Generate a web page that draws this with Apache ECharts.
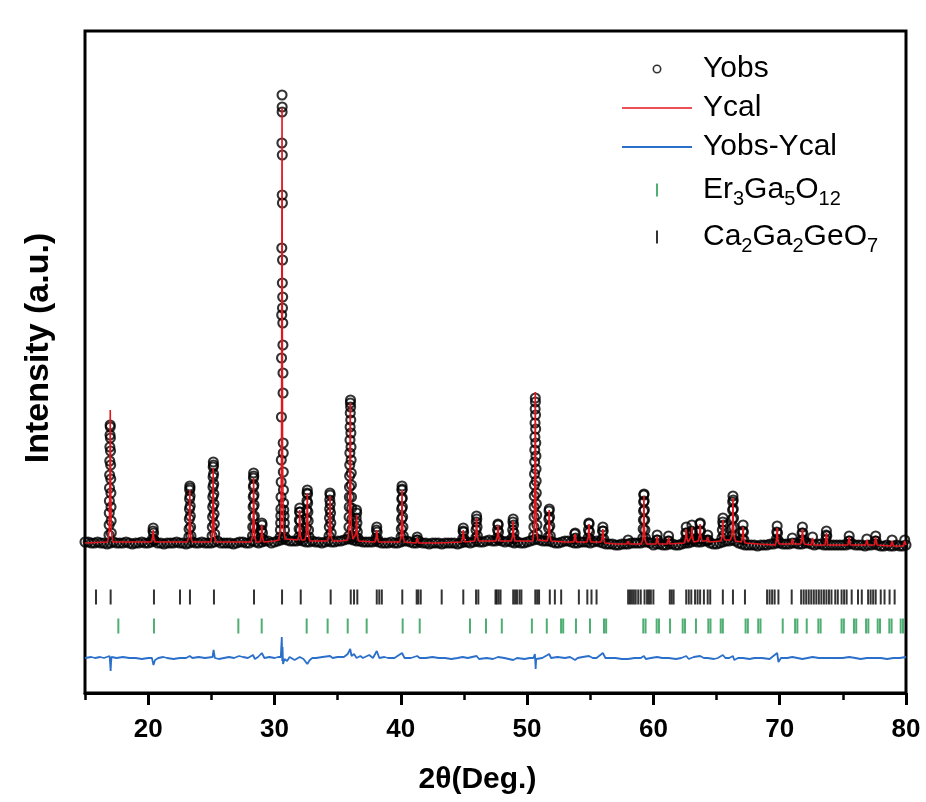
<!DOCTYPE html>
<html>
<head>
<meta charset="utf-8">
<title>XRD refinement</title>
<script src="https://cdn.jsdelivr.net/npm/echarts@6/dist/echarts.min.js"></script>
<style>
  html, body { margin: 0; padding: 0; background: #fff; }
  #chart { width: 926px; height: 802px; }
</style>
</head>
<body>
<div id="chart"></div>
<script>
// axis ticks
const majorTicks = [20, 30, 40, 50, 60, 70, 80];
const minorTicks = [15, 25, 35, 45, 55, 65, 75];

// Yobs background: one reading every 0.25 deg from 15 deg
const obsGridStart = 15;
const obsGridStep = 0.25;
const obsBaseline = [
  151,151,150,150,151,150,150,149,150,151,150,150,150,151,150,149,150,150,151,150,
  150,151,152,150,150,149,150,150,150,151,150,150,149,150,151,150,150,151,150,150,
  150,151,152,150,150,150,150,149,150,151,151,150,150,152,151,150,151,152,152,150,
  151,152,153,154,153,152,152,152,153,152,151,151,152,151,151,150,151,152,151,151,
  152,152,153,154,154,153,152,152,151,151,151,151,152,151,150,150,150,151,150,150,
  151,152,152,151,150,150,151,150,150,149,150,150,150,149,150,150,150,150,149,150,
  151,151,150,151,152,151,151,152,153,152,152,153,152,151,152,151,150,151,150,150,
  151,152,153,154,153,152,152,152,151,150,150,151,152,152,151,150,150,151,151,151,
  150,151,152,151,150,149,149,149,148,148,149,149,149,150,150,150,150,151,151,150,
  148,149,149,148,148,149,149,148,148,149,150,150,151,152,151,151,152,152,150,149,
  149,150,151,152,152,153,152,150,149,148,148,148,148,147,148,148,148,149,149,150,
  150,149,149,149,150,150,149,149,150,150,149,148,149,149,148,148,148,148,148,148,
  148,148,149,149,148,148,148,147,148,148,149,148,147,147,148,147,147,148,147,147,
  148
];

// Yobs points on the reflections [2theta, intensity]
const obsPeaks = [
  [16.9,158],[16.91,168],[16.92,180],[16.93,192],[16.94,205],[16.95,218],[16.96,232],[16.97,246],[16.98,258],[16.99,268],
  [17.0,266],[17.01,255],[17.02,242],[17.03,228],[17.04,214],[17.05,200],[17.06,186],[17.07,172],[17.08,160],
  [20.34,154],[20.38,162],[20.4,165],[20.43,160],[20.47,153],
  [23.22,156],[23.24,164],[23.26,174],[23.27,184],[23.28,194],[23.29,203],[23.3,207],[23.31,205],[23.32,197],[23.33,187],[23.34,177],[23.36,166],[23.39,157],
  [25.06,157],[25.08,166],[25.1,176],[25.11,186],[25.12,196],[25.13,206],[25.14,216],[25.15,226],[25.16,231],[25.17,228],[25.18,219],[25.19,209],[25.2,199],[25.21,189],[25.22,179],[25.24,169],[25.27,159],
  [28.26,157],[28.28,166],[28.3,176],[28.31,186],[28.32,196],[28.33,206],[28.34,215],[28.35,220],[28.36,217],[28.37,208],[28.38,198],[28.39,188],[28.41,177],[28.43,166],[28.46,157],
  [28.93,155],[28.97,163],[29.0,170],[29.02,168],[29.05,160],[29.09,154],
  [30.45,156],[30.47,163],[30.49,170],[30.5,177],[30.51,184],[30.52,196],[30.53,211],[30.54,233],[30.55,276],[30.56,335],[30.57,378],[30.58,445],[30.59,550],
  [30.6,598],[30.605,581],[30.61,586],[30.615,498],[30.62,538],[30.625,410],[30.63,490],[30.635,385],[30.64,433],[30.65,396],[30.66,370],[30.67,348],[30.675,320],
  [30.68,300],[30.69,250],[30.695,240],[30.7,221],[30.71,203],[30.72,190],[30.74,183],[30.76,177],[30.78,170],[30.8,163],[30.83,156],
  [31.93,156],[31.95,164],[31.97,173],[31.99,181],[32.0,185],[32.02,181],[32.04,172],[32.06,163],[32.09,155],
  [32.5,157],[32.52,165],[32.54,174],[32.56,183],[32.57,192],[32.58,200],[32.6,203],[32.62,199],[32.63,190],[32.65,181],[32.67,172],[32.7,163],[32.74,156],
  [34.32,157],[34.34,166],[34.36,175],[34.37,184],[34.38,193],[34.39,200],[34.41,198],[34.42,189],[34.44,180],[34.46,170],[34.49,160],
  [35.88,157],[35.9,166],[35.91,176],[35.92,186],[35.93,196],[35.94,206],[35.95,217],[35.96,228],[35.97,240],[35.98,253],[35.99,266],[36.0,280],[36.01,290],
  [36.02,293],[36.03,286],[36.04,273],[36.05,260],[36.06,246],[36.07,233],[36.08,220],[36.09,208],[36.1,196],[36.11,185],[36.13,174],[36.15,164],[36.18,156],
  [36.42,156],[36.45,165],[36.47,175],[36.49,183],[36.51,180],[36.53,170],[36.56,161],[36.6,155],
  [38.04,155],[38.08,163],[38.1,166],[38.13,161],[38.17,154],
  [40.02,156],[40.04,164],[40.06,174],[40.07,184],[40.08,194],[40.09,203],[40.1,207],[40.11,204],[40.12,195],[40.13,186],[40.15,176],[40.17,166],[40.2,157],
  [41.27,153],[41.3,156],[41.33,153],
  [44.89,154],[44.93,162],[44.95,165],[44.98,161],[45.02,154],
  [45.93,155],[45.96,163],[45.98,171],[46.0,177],[46.02,174],[46.04,166],[46.07,157],
  [47.63,155],[47.66,163],[47.69,169],[47.71,168],[47.74,161],[47.78,154],
  [48.83,155],[48.86,163],[48.88,171],[48.9,174],[48.93,168],[48.96,160],[49.0,154],
  [50.52,157],[50.54,166],[50.55,176],[50.56,186],[50.57,197],[50.58,208],[50.59,219],[50.6,231],[50.61,243],[50.62,256],[50.63,270],[50.64,284],[50.65,295],
  [50.66,291],[50.67,278],[50.68,264],[50.69,250],[50.7,237],[50.71,224],[50.72,212],[50.73,200],[50.74,189],[50.76,178],[50.78,168],[50.81,159],
  [51.67,156],[51.7,165],[51.72,174],[51.74,182],[51.76,184],[51.78,176],[51.8,167],[51.84,157],
  [53.74,154],[53.78,159],[53.81,160],[53.85,155],
  [54.83,155],[54.86,163],[54.89,170],[54.91,169],[54.94,161],[54.98,154],
  [55.93,154],[55.97,162],[56.0,166],[56.03,162],[56.07,154],
  [58.0,153],
  [59.17,155],[59.19,164],[59.21,173],[59.22,182],[59.23,191],[59.24,198],[59.26,199],[59.27,192],[59.29,183],[59.31,173],[59.33,163],[59.37,155],
  [60.26,153],[60.3,158],[60.34,153],
  [61.16,152],[61.2,157],[61.24,152],
  [62.54,153],[62.57,160],[62.6,166],[62.63,160],[62.66,153],
  [62.99,154],[63.02,162],[63.05,168],[63.08,161],[63.12,154],
  [63.63,154],[63.66,162],[63.69,169],[63.71,170],[63.74,162],[63.78,154],
  [64.26,153],[64.3,158],[64.34,153],
  [65.43,155],[65.46,163],[65.49,171],[65.51,175],[65.54,168],[65.58,158],
  [66.21,157],[66.23,165],[66.25,174],[66.27,183],[66.28,191],[66.3,197],[66.32,193],[66.33,184],[66.35,175],[66.37,166],[66.41,157],
  [67.04,154],[67.07,162],[67.1,168],[67.13,161],[67.17,153],
  [69.74,154],[69.77,161],[69.8,167],[69.83,160],[69.87,153],
  [71.0,155],
  [71.74,153],[71.77,160],[71.8,166],[71.83,160],[71.87,153],
  [72.6,156],
  [73.65,153],[73.68,158],[73.7,162],[73.73,157],
  [75.47,152],[75.5,157],[75.53,152],
  [76.9,154],
  [77.57,152],[77.6,157],[77.63,152],
  [78.9,153],[79.9,153]
];

// Ycal profile [2theta, intensity]
const calPoints = [
  [15,150],
  [16.8,151],[16.92,163],[16.97,210],[17.0,283],[17.03,210],[17.08,163],[17.2,151],
  [20.25,151],[20.35,155],[20.4,163],[20.45,155],[20.55,151],
  [23.1,151],[23.22,156],[23.27,174],[23.3,203],[23.33,174],[23.38,156],[23.5,151],
  [24.95,151],[25.07,158],[25.12,184],[25.15,225],[25.18,184],[25.23,158],[25.35,151],
  [26.5,151],
  [28.15,151],[28.27,157],[28.32,179],[28.35,215],[28.38,179],[28.43,157],[28.55,151],
  [28.85,151],[28.95,156],[29.0,168],[29.05,156],[29.15,151],
  [30.0,152],
  [30.35,153],[30.5,165],[30.56,240],[30.6,585],[30.64,240],[30.7,165],[30.85,154],
  [31.85,153],[31.95,158],[32.0,183],[32.05,158],[32.15,153],
  [32.4,153],[32.52,158],[32.57,175],[32.6,200],[32.63,175],[32.68,158],[32.8,152],
  [33.3,152],
  [34.2,152],[34.32,157],[34.37,172],[34.4,197],[34.43,172],[34.48,157],[34.6,152],
  [35.2,152],
  [35.8,153],[35.92,166],[35.97,214],[36.0,290],[36.03,214],[36.08,166],[36.2,154],
  [36.35,153],[36.45,159],[36.5,178],[36.55,159],[36.65,152],
  [37.95,151],[38.05,155],[38.1,163],[38.15,155],[38.25,151],
  [39.0,151],
  [39.9,151],[40.02,156],[40.07,174],[40.1,203],[40.13,174],[40.18,156],[40.3,151],
  [41.2,150],[41.3,155],[41.4,150],
  [43.0,150],
  [44.8,151],[44.9,155],[44.95,163],[45.0,155],[45.1,151],
  [45.85,152],[45.95,158],[46.0,175],[46.05,158],[46.15,152],
  [47.55,152],[47.65,157],[47.7,168],[47.75,157],[47.85,152],
  [48.75,152],[48.85,157],[48.9,172],[48.95,157],[49.05,152],
  [50.45,152],[50.57,166],[50.62,218],[50.65,301],[50.68,218],[50.73,166],[50.85,153],
  [51.6,152],[51.7,158],[51.75,183],[51.8,158],[51.9,152],
  [53.0,151],
  [53.7,151],[53.8,159],[53.9,151],
  [54.75,151],[54.85,156],[54.9,169],[54.95,156],[55.05,151],
  [55.85,151],[55.95,155],[56.0,164],[56.05,155],[56.15,150],
  [57.0,149],
  [57.9,149],[58.0,152],[58.1,149],
  [59.05,149],[59.17,154],[59.22,170],[59.25,197],[59.28,170],[59.33,154],[59.45,149],
  [60.2,149],[60.3,156],[60.4,149],
  [61.1,149],[61.2,155],[61.3,149],
  [62.45,150],[62.55,155],[62.6,164],[62.65,155],[62.75,151],
  [62.9,151],[63.0,156],[63.05,166],[63.1,156],[63.2,151],
  [63.55,152],[63.65,157],[63.7,169],[63.75,157],[63.85,152],
  [64.2,152],[64.3,156],[64.4,151],
  [65.35,152],[65.45,157],[65.5,173],[65.55,157],[65.65,153],
  [66.1,153],[66.22,158],[66.27,173],[66.3,195],[66.33,173],[66.38,158],[66.5,152],
  [66.95,151],[67.05,155],[67.1,166],[67.15,155],[67.25,150],
  [68.3,149],
  [69.65,148],[69.75,153],[69.8,165],[69.85,153],[69.95,149],
  [70.9,149],[71.0,154],[71.1,149],
  [71.65,149],[71.75,154],[71.8,164],[71.85,154],[71.95,149],
  [72.5,148],[72.6,155],[72.7,148],
  [73.6,148],[73.7,160],[73.8,148],
  [74.6,148],
  [75.4,148],[75.5,156],[75.6,148],
  [76.8,148],[76.9,153],[77.0,148],
  [77.5,148],[77.6,156],[77.7,148],
  [78.8,147],[78.9,152],[79.0,147],
  [79.8,147],[79.9,152],[80,148]
];

// Yobs-Ycal [2theta, difference]
const diffPoints = [
  [15,35],[15.5,36],[15.8,35],[16.2,36],[16.5,35],[16.95,37],[17.0,39],[17.03,22],[17.06,30],[17.1,36],[17.5,35],[18.0,36],[18.5,35],
  [19.0,35],[19.5,34],[20.0,35],[20.3,35],[20.42,28],[20.55,33],[20.8,35],[21.2,36],[21.5,35],[22.0,34],[22.5,35],[23.0,35],
  [23.3,37],[23.5,35],[24.0,36],[24.5,35],[25.1,36],[25.18,43],[25.28,35],[25.6,34],[26.0,35],[26.4,36],[26.8,35],[27.2,37],
  [27.5,36],[27.9,35],[28.3,38],[28.45,34],[28.7,36],[29.0,40],[29.2,35],[29.6,36],[30.0,35],[30.3,36],[30.5,36],[30.58,56],
  [30.62,32],[30.64,46],[30.68,29],[30.8,34],[31.0,32],[31.2,36],[31.6,33],[32.0,36],[32.3,34],[32.6,29],[32.8,33],[33.0,35],
  [33.3,35],[33.8,36],[34.4,37],[34.6,35],[35.0,36],[35.5,36],[35.8,39],[36.0,44],[36.1,37],[36.3,39],[36.5,35],[36.8,37],
  [37.0,35],[37.5,38],[37.8,35],[38.1,42],[38.3,35],[38.7,36],[39.0,35],[39.5,35],[40.1,40],[40.3,35],[40.8,35],[41.3,37],
  [41.5,35],[42.0,35],[42.5,36],[43.0,35],[43.5,35],[44.0,34],[44.5,35],[44.9,36],[45.3,35],[46.0,37],[46.2,34],[46.8,35],
  [47.3,34],[47.7,36],[48.2,35],[48.9,33],[49.2,35],[49.8,34],[50.2,35],[50.5,35],[50.62,39],[50.68,24],[50.72,34],[50.8,36],
  [51.2,35],[51.75,39],[51.9,35],[52.4,36],[53.0,35],[53.4,36],[53.8,33],[54.0,35],[54.4,36],[54.9,37],[55.2,35],[55.5,35],
  [56.0,40],[56.2,35],[56.6,35],[57.0,35],[57.5,34],[58.0,34],[58.5,35],[59.0,35],[59.25,37],[59.4,34],[59.8,35],[60.3,36],
  [60.7,35],[61.2,35],[61.8,34],[62.2,35],[62.6,37],[62.8,34],[63.2,36],[63.7,37],[64.0,35],[64.3,35],[64.8,34],[65.1,35],
  [65.5,38],[65.7,35],[66.0,35],[66.3,37],[66.4,33],[66.7,35],[67.1,35],[67.6,34],[68.0,35],[68.6,35],[69.2,34],[69.8,40],
  [69.9,31],[70.1,35],[70.6,35],[71.0,36],[71.4,35],[71.8,34],[72.2,35],[72.6,36],[73.1,35],[73.7,35],[74.3,35],[75.0,35],
  [75.5,36],[76.0,35],[76.4,34],[76.9,35],[77.4,35],[78.0,35],[78.5,34],[79.0,35],[79.5,35],[80,36]
];

// Bragg reflection positions
const erPos = [
  17.64, 20.46, 27.14, 28.99, 32.55, 34.21, 35.8, 37.3, 40.15, 41.5, 45.48, 46.75, 48.0, 50.38, 51.56,
  52.69, 52.86, 53.87, 54.98, 56.09, 56.26, 59.2, 59.38, 60.26, 60.44, 61.32, 62.32, 62.5, 63.37, 64.35, 64.52,
  65.33, 65.5, 67.3, 67.48, 68.3, 68.48, 70.24, 71.22, 71.4, 72.14, 73.06, 73.24, 74.9, 75.08, 75.88, 76.06,
  76.84, 77.02, 77.76, 77.94, 78.68, 78.86, 79.58, 79.76
];
const caPos = [
  15.87, 17.03, 20.46, 22.52, 23.31, 25.21, 28.38, 30.6, 32.08, 34.45, 36.04, 36.3, 36.56, 38.1, 38.3, 38.5,
  40.12, 41.26, 41.39, 41.58, 43.24, 44.95, 45.96, 46.14, 47.5, 47.6, 47.75, 47.9, 48.9, 49.05, 49.2, 49.4, 49.55,
  50.65, 50.8, 50.95, 51.8, 52.2, 52.7, 54.1, 54.77, 55.1, 55.5, 58.0, 58.15, 58.3, 58.45, 58.6, 58.8, 59.0,
  59.3, 59.5, 59.65, 59.8, 60.0, 61.3, 61.45, 61.6, 62.6, 62.8, 63.0, 63.3, 63.5, 63.7, 64.0, 64.3, 64.5, 65.5,
  66.3, 67.25, 69.0, 69.2, 69.4, 69.6, 69.9, 70.95, 71.7, 71.9, 72.1, 72.3, 72.5, 72.7, 72.9, 73.1, 73.3, 73.5,
  73.7, 73.9, 74.1, 74.4, 74.6, 74.9, 75.1, 75.3, 75.7, 76.2, 76.5, 77.0, 77.2, 77.4, 77.6, 78.0, 78.3, 78.7, 79.1
];

const legendLabels = {
  Er3Ga5O12: "Er{s|3}Ga{s|5}O{s|12}",
  Ca2Ga2GeO7: "Ca{s|2}Ga{s|2}GeO{s|7}",
};

const FONT = "'Liberation Sans', Arial, sans-serif";
const ERROW = 67; // y level of the garnet tick row
const CAROW = 96; // y level of the melilite tick row

// legend icons, 76x14 box, mark drawn on 0..70
const ringIcon = "path://M30.5,7 A4.5,4.5 0 1 1 39.5,7 A4.5,4.5 0 1 1 30.5,7 Z M32.1,7 A2.9,2.9 0 1 0 37.9,7 A2.9,2.9 0 1 0 32.1,7 Z M0,0 M76,14";
const thinLine = "path://M0,6.3 L70,6.3 L70,7.7 L0,7.7 Z M0,0 M76,14";
const midLine = "path://M0,6 L70,6 L70,8 L0,8 Z M0,0 M76,14";
const barIcon = "path://M34,0.5 L36,0.5 L36,13.5 L34,13.5 Z M0,0 M76,14";

const obsData = obsBaseline
  .map((v, i) => [obsGridStart + i * obsGridStep, v])
  .concat(obsPeaks);

let chart = echarts.init(document.getElementById("chart"));
chart.setOption({
  animation: false,
  backgroundColor: "#fff",
  grid: [
    { left: 85, right: 20, top: 31, bottom: 109, show: true, borderColor: "#000", borderWidth: 3 },
    { left: 85, right: 20, top: 31, bottom: 109 },
  ],
  legend: {
    orient: "vertical",
    left: 622,
    top: 54,
    padding: 0,
    itemGap: 9,
    itemWidth: 76,
    itemHeight: 14,
    selectedMode: false,
    formatter: (name) => legendLabels[name] || name,
    textStyle: {
      fontFamily: FONT,
      fontSize: 30,
      color: "#000",
      lineHeight: 30,
      rich: {
        s: { fontFamily: FONT, fontSize: 20, color: "#000", lineHeight: 30, padding: [18, 0, 0, 0] },
      },
    },
    data: [
      { name: "Yobs", icon: ringIcon, itemStyle: { color: "#000", borderWidth: 0 } },
      { name: "Ycal", icon: thinLine, itemStyle: { color: "#e3161e", borderWidth: 0 } },
      { name: "Yobs-Ycal", icon: midLine, itemStyle: { color: "#2a6fca", borderWidth: 0 } },
      { name: "Er3Ga5O12", icon: barIcon, itemStyle: { color: "#239a4f", borderWidth: 0 } },
      { name: "Ca2Ga2GeO7", icon: barIcon, itemStyle: { color: "#000", borderWidth: 0 } },
    ],
  },
  xAxis: [
    {
      type: "value",
      gridIndex: 0,
      min: 15,
      max: 80,
      name: "2θ(Deg.)",
      nameLocation: "middle",
      nameGap: 72,
      nameTextStyle: {
        fontFamily: FONT,
        fontSize: 30,
        fontWeight: "bold",
        color: "#000",
        padding: [0, 36, 0, 0],
      },
      axisLine: { lineStyle: { color: "#000", width: 3 } },
      axisTick: { customValues: majorTicks, length: 12, lineStyle: { color: "#000", width: 3 } },
      axisLabel: {
        customValues: majorTicks,
        margin: 24,
        fontFamily: FONT,
        fontSize: 26,
        fontWeight: "bold",
        color: "#000",
      },
      splitLine: { show: false },
    },
    {
      type: "value",
      gridIndex: 1,
      min: 15,
      max: 80,
      axisLine: { show: false },
      axisTick: { customValues: minorTicks, length: 7, lineStyle: { color: "#000", width: 2.5 } },
      axisLabel: { show: false },
      splitLine: { show: false },
    },
  ],
  yAxis: [
    {
      type: "value",
      gridIndex: 0,
      min: 0,
      max: 662,
      name: "Intensity (a.u.)",
      nameLocation: "middle",
      nameGap: 29,
      nameTextStyle: {
        fontFamily: FONT,
        fontSize: 34,
        fontWeight: "bold",
        color: "#000",
        padding: [0, 0, 0, 28],
      },
      axisLine: { show: false },
      axisTick: { show: false },
      axisLabel: { show: false },
      splitLine: { show: false },
    },
    { type: "value", gridIndex: 1, min: 0, max: 662, show: false },
  ],
  series: [
    {
      name: "Yobs",
      type: "scatter",
      silent: true,
      symbol: "circle",
      symbolSize: 9,
      itemStyle: { color: "rgba(0,0,0,0)", borderColor: "#000", borderWidth: 2.1 },
      data: obsData,
      z: 2,
    },
    {
      name: "Ycal",
      type: "line",
      silent: true,
      symbol: "none",
      lineStyle: { color: "#e3161e", width: 1.6 },
      data: calPoints,
      z: 3,
    },
    {
      name: "Yobs-Ycal",
      type: "line",
      silent: true,
      symbol: "none",
      lineStyle: { color: "#2a6fca", width: 1.8 },
      data: diffPoints,
      z: 3,
    },
    {
      name: "Er3Ga5O12",
      type: "scatter",
      silent: true,
      symbol: "rect",
      symbolSize: [2, 15],
      itemStyle: { color: "#239a4f" },
      data: erPos.map((x) => [x, ERROW]),
    },
    {
      name: "Ca2Ga2GeO7",
      type: "scatter",
      silent: true,
      symbol: "rect",
      symbolSize: [2, 15],
      itemStyle: { color: "#000" },
      data: caPos.map((x) => [x, CAROW]),
    },
  ],
});
</script>
</body>
</html>
